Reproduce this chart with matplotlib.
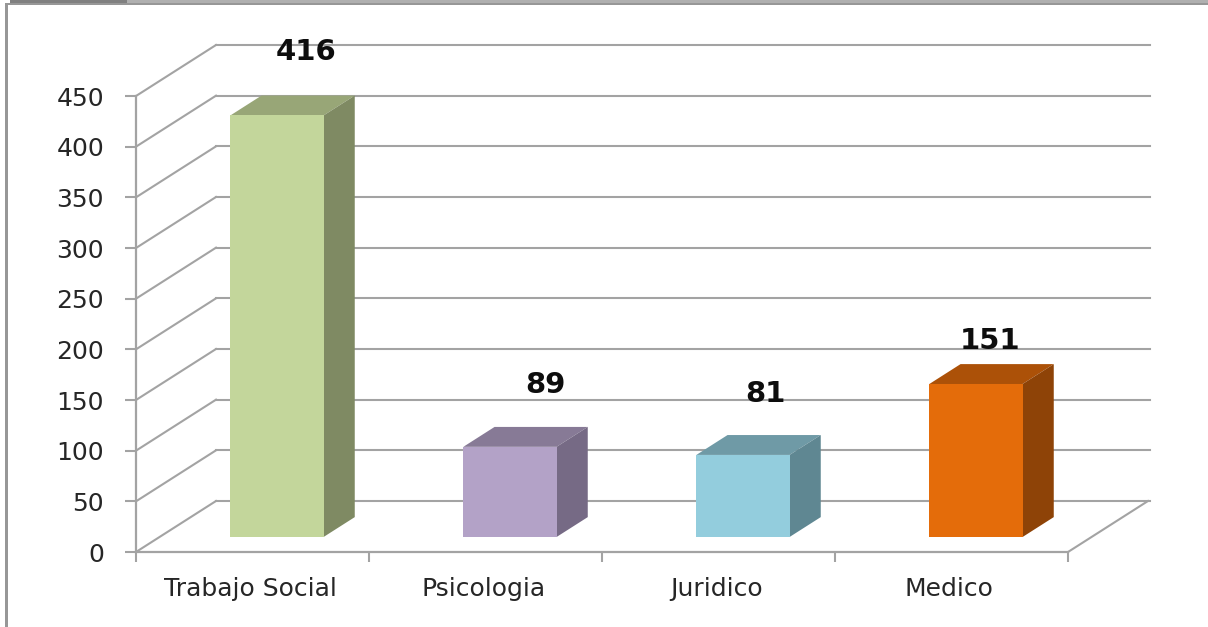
import matplotlib
matplotlib.use('Agg')
import matplotlib.pyplot as plt
import numpy as np
from matplotlib.patches import Polygon, Rectangle

categories = ['Trabajo Social', 'Psicologia', 'Juridico', 'Medico']
values = [416, 89, 81, 151]
y_ticks = [0, 50, 100, 150, 200, 250, 300, 350, 400, 450]

front_colors = ['#C3D69B', '#B3A2C7', '#93CDDD', '#E46C0A']
top_colors = ['#98A677', '#877A96', '#6F9AA6', '#AC5108']
side_colors = ['#7F8A63', '#766A85', '#5F8792', '#8E4307']

# label offset from the top of each bar's front face, in pixels at dpi 100
label_dx = [29, 35, 22, 14]
label_dy = [65, 64, 63, 45]

GRID = '#A3A3A3'
DEPTH_X = 80 / 233      # depth of the 3d box in category units
DEPTH_Y = 51 / 1.0133   # same, in value units
BAR_W = 0.40
BAR_START = 0.294       # where the bar's front sits inside the depth
BAR_DEPTH = 0.39

plt.rcParams['font.family'] = ['DejaVu Sans']

W, H = 1208, 627
fig = plt.figure(figsize=(W / 100, H / 100), dpi=100)
ax = fig.add_axes([136 / W, (H - 552) / H, (1068 - 136) / W, (552 - 96) / H])
ax.set_xlim(0, len(categories))
ax.set_ylim(0, 450)

# outer frame of the screenshot
fig.add_artist(Rectangle((10 / W, 1 - 3 / H), 1 - 10 / W, 3 / H, transform=fig.transFigure, color='#B0B0B0', lw=0))
fig.add_artist(Rectangle((10 / W, 1 - 3 / H), 117 / W, 3 / H, transform=fig.transFigure, color='#808080', lw=0))
fig.add_artist(Rectangle((5 / W, 0), 3 / W, 1 - 3 / H, transform=fig.transFigure, color='#979797', lw=0))
fig.add_artist(Rectangle((5 / W, 1 - 5 / H), 1 - 5 / W, 2 / H, transform=fig.transFigure, color='#979797', lw=0))

# back wall and side wall
for t in y_ticks:
    ax.plot([0, DEPTH_X], [t, t + DEPTH_Y], color=GRID, lw=1.5, clip_on=False, zorder=1)
    ax.plot([DEPTH_X, len(categories) + DEPTH_X * 1.025], [t + DEPTH_Y, t + DEPTH_Y],
            color=GRID, lw=1.5, clip_on=False, zorder=1)
ax.plot([len(categories), len(categories) + DEPTH_X], [0, DEPTH_Y], color=GRID, lw=1.5, clip_on=False, zorder=1)

for i, val in enumerate(values):
    x0 = i + (1 - BAR_W) / 2 + 0.004 + DEPTH_X * BAR_START
    x1 = x0 + BAR_W
    y0 = DEPTH_Y * BAR_START
    y1 = val + y0
    dx = DEPTH_X * BAR_DEPTH
    dy = DEPTH_Y * BAR_DEPTH
    ax.add_patch(Polygon([(x0, y1), (x1, y1), (x1 + dx, y1 + dy), (x0 + dx, y1 + dy)],
                         facecolor=top_colors[i], lw=0, zorder=3, clip_on=False))
    ax.add_patch(Polygon([(x1, y0), (x1 + dx, y0 + dy), (x1 + dx, y1 + dy), (x1, y1)],
                         facecolor=side_colors[i], lw=0, zorder=3, clip_on=False))
    ax.add_patch(Polygon([(x0, y0), (x1, y0), (x1, y1), (x0, y1)],
                         facecolor=front_colors[i], lw=0, zorder=4, clip_on=False))
    ax.annotate(str(val), xy=((x0 + x1) / 2, y1),
                xytext=(label_dx[i] * 0.72, (label_dy[i] + 1) * 0.72), textcoords='offset points',
                ha='center', va='center_baseline', fontsize=21, fontweight='bold', color='#0D0D0D', zorder=5)

ax.set_yticks(y_ticks)
ax.set_xticks(np.arange(len(categories) + 1))
ax.set_xticklabels([])
ax.set_xticks(np.arange(len(categories)) + 0.49, minor=True)
ax.set_xticklabels(categories, minor=True)
ax.tick_params(axis='x', which='major', length=7, width=1.5, color=GRID)
ax.tick_params(axis='x', which='minor', length=0, pad=18, labelsize=18, labelcolor='#262626')
ax.tick_params(axis='y', length=8, width=1.5, color=GRID, pad=15, labelsize=18, labelcolor='#262626')

for s in ['top', 'right']:
    ax.spines[s].set_visible(False)
for s in ['left', 'bottom']:
    ax.spines[s].set_color(GRID)
    ax.spines[s].set_linewidth(1.6)

fig.savefig('out.png', dpi=100)
